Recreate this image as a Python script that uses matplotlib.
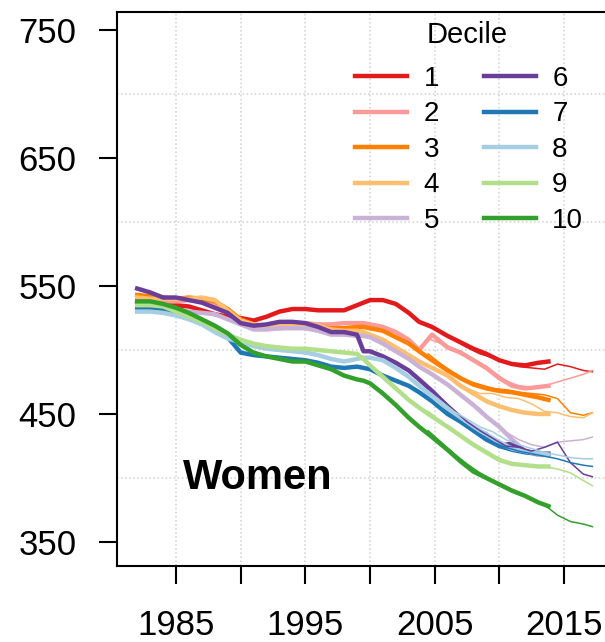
import matplotlib
matplotlib.use('Agg')
from matplotlib import pyplot as plt

plt.rcParams['font.family'] = ['Liberation Sans', 'DejaVu Sans']

# long series (thick lines)
years = [1982, 1983, 1984, 1985, 1986, 1987, 1988, 1989, 1990, 1991,
         1992, 1993, 1994, 1995, 1996, 1997, 1998, 1999, 1999.5, 2000,
         2001, 2002, 2003, 2003.8, 2004.8, 2006, 2007, 2008, 2009, 2010,
         2011, 2012, 2013, 2013.8]

d1 = [538, 537, 536, 535, 534, 531, 528, 526, 525, 523,
      526, 530, 532, 532, 531, 531, 531, 535, 537, 539,
      539, 536, 529, 522, 518, 511, 506, 501, 497, 492,
      489, 488, 490, 491]
d2 = [536, 537, 538, 538, 539, 538, 536, 530, 523, 519,
      519, 519, 520, 521, 520, 520, 521, 521, 521, 520,
      518, 514, 508, 500, 512, 502, 498, 492, 486, 478,
      472, 470, 471, 472]
d3 = [543, 542, 541, 540, 541, 540, 538, 532, 524, 520,
      518, 517, 518, 518, 518, 517, 517, 518, 518, 517,
      515, 510, 505, 499, 492, 484, 478, 473, 470, 468,
      467, 465, 463, 461]
d4 = [541, 540, 540, 540, 540, 541, 539, 531, 523, 520,
      519, 519, 520, 520, 519, 516, 515, 515, 514, 512,
      508, 502, 496, 491, 486, 480, 472, 466, 460, 456,
      453, 451, 450, 450]
d5 = [532, 531, 531, 531, 530, 529, 528, 524, 520, 516,
      516, 517, 517, 517, 515, 512, 512, 511, 511, 510,
      505, 499, 493, 487, 481, 473, 465, 457, 448, 440,
      430, 421, 418, 418]
d6 = [548, 545, 541, 541, 539, 537, 533, 529, 521, 519,
      520, 522, 522, 521, 518, 514, 514, 512, 499, 499,
      495, 490, 484, 477, 468, 456, 447, 439, 434, 425,
      427, 421, 419, 419]
d7 = [533, 533, 532, 529, 525, 521, 516, 510, 498, 496,
      495, 494, 493, 492, 490, 487, 486, 487, 486, 485,
      480, 476, 472, 467, 460, 450, 444, 437, 430, 425,
      422, 420, 419, 418]
d8 = [530, 530, 529, 527, 524, 520, 514, 509, 506, 503,
      501, 500, 499, 498, 496, 493, 491, 493, 494, 494,
      492, 486, 479, 472, 464, 454, 447, 440, 434, 428,
      423, 421, 419, 418]
d9 = [535, 535, 534, 530, 526, 522, 517, 512, 508, 505,
      503, 502, 501, 501, 500, 499, 498, 497, 493, 488,
      479, 470, 461, 455, 448, 440, 433, 426, 420, 414,
      411, 410, 409, 409]
d10 = [538, 538, 536, 533, 529, 524, 519, 513, 504, 498,
       495, 493, 491, 491, 488, 485, 480, 477, 476, 474,
       466, 457, 447, 440, 432, 422, 413, 405, 400, 395,
       390, 386, 381, 378]

# newer series (thin lines)
years_new = [2004.5, 2005.5, 2006.5, 2007.5, 2008.5, 2009.5, 2010.5,
             2011.5, 2012.5, 2013.5, 2014.5, 2015.5, 2016.5, 2017.2]

n1 = [520, 514, 508, 502, 497, 494, 490, 487, 486, 485, 489, 487, 484, 483]
n2 = [509, 505, 500, 496, 490, 483, 476, 472, 471, 472, 475, 478, 481, 484]
n3 = [497, 489, 482, 476, 473, 470, 469, 467, 466, 465, 462, 451, 449, 451]
n4 = [488, 482, 476, 470, 466, 466, 463, 462, 458, 452, 451, 448, 447, 451]
n5 = [484, 477, 470, 462, 454, 444, 436, 430, 426, 424, 428, 429, 430, 432]
n6 = [470, 462, 453, 444, 437, 431, 425, 424, 421, 424, 428, 412, 403, 401]
n7 = [462, 455, 448, 441, 434, 428, 424, 421, 419, 417, 415, 412, 410, 409]
n8 = [468, 460, 452, 446, 440, 436, 430, 426, 423, 420, 418, 416, 415, 415]
n9 = [452, 444, 437, 430, 424, 418, 413, 411, 410, 409, 407, 404, 398, 394]
n10 = [437, 428, 419, 411, 404, 398, 393, 389, 384, 379, 371, 366, 364, 362]

deciles = ['1', '2', '3', '4', '5', '6', '7', '8', '9', '10']
colors = ['#E31A1C', '#FB9A99', '#FF7F00', '#FDBF6F', '#CAB2D6',
          '#6A3D9A', '#1F78B4', '#A6CEE3', '#B2DF8A', '#33A02C']

old = [d1, d2, d3, d4, d5, d6, d7, d8, d9, d10]
new = [n1, n2, n3, n4, n5, n6, n7, n8, n9, n10]

fig = plt.figure(figsize=(6.05, 6.42), dpi=100)
ax = fig.add_axes([117 / 605, 76 / 642, 497 / 605, 554 / 642])

handles = []
for vals, col in zip(old, colors):
    h, = ax.plot(years, vals, color=col, lw=3.2, solid_joinstyle='round')
    handles.append(h)
for vals, col in zip(new, colors):
    ax.plot(years_new, vals, color=col, lw=1.1)

ax.set_xlim(1980.44, 2018.87)
ax.set_ylim(331.25, 764.06)

ax.set_xticks([1985, 1990, 1995, 2000, 2005, 2010, 2015])
ax.set_xticklabels(['1985', '', '1995', '', '2005', '', '2015'])
ax.set_yticks([350, 450, 550, 650, 750])
ax.set_yticks([400, 500, 600, 700], minor=True)

ax.tick_params(direction='out', length=13, width=1.5, labelsize=25,
               colors='black')
ax.tick_params(axis='x', pad=18)
ax.tick_params(axis='y', pad=16)
ax.tick_params(axis='y', which='minor', length=0)

ax.grid(True, axis='x', which='major', color='#d0d0d0', ls=':', lw=1.1)
ax.grid(True, axis='y', which='minor', color='#d0d0d0', ls=':', lw=1.1)
ax.set_axisbelow(True)

for s in ax.spines.values():
    s.set_linewidth(1.5)

ax.text(1991.3, 400, 'Women', fontsize=30, fontweight='bold',
        ha='center', va='center')

fig.text(467 / 605, 1 - 35 / 642, 'Decile', fontsize=21,
         ha='center', va='center')
ax.legend(handles, deciles, ncol=2, loc='upper left',
          bbox_to_anchor=(355 / 605, 1 - 66 / 642),
          bbox_transform=fig.transFigure, frameon=False,
          fontsize=20, handlelength=1.87,
          handletextpad=0.6, columnspacing=1.6, labelspacing=0.34,
          borderpad=0, borderaxespad=0)

fig.savefig('out.png', dpi=100)
